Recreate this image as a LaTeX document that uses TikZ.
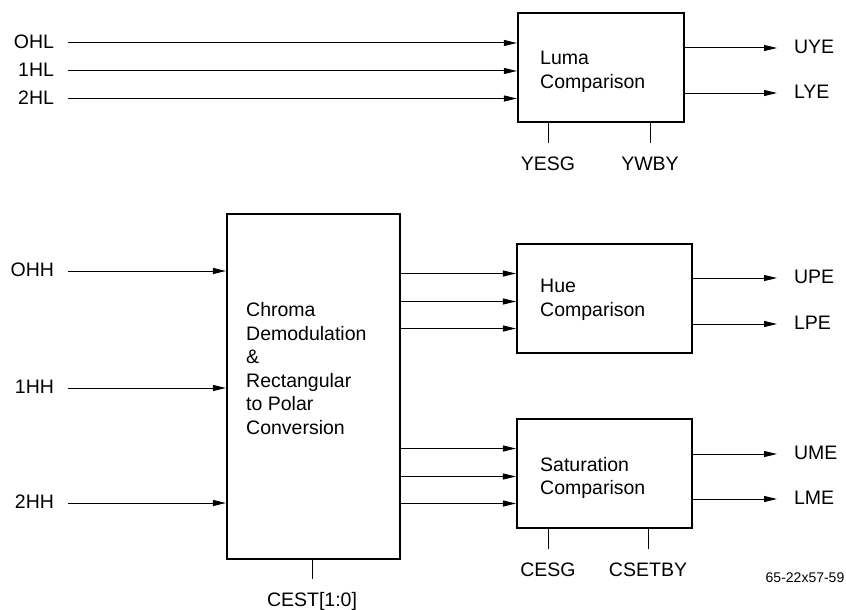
\documentclass[tikz,border=0pt]{standalone}
\usepackage{fontspec}
\setmainfont{Liberation Sans}
\usetikzlibrary{arrows.meta}
\newcommand{\sigfont}{\fontsize{19.5}{23.5}\selectfont}
\tikzset{
  block/.style={draw, line width=2.2pt, inner sep=0pt, minimum width=173pt},
  blocktext/.style={anchor=north west, inner sep=0pt, align=left, font=\sigfont},
  sig/.style={inner sep=0pt, font=\sigfont, text height=14pt, text depth=3pt},
  sigin/.style={sig, anchor=east, outer xsep=14pt},
  sigout/.style={sig, anchor=west, outer xsep=17pt},
  sigbot/.style={sig, anchor=north, outer ysep=13pt},
  wire/.style={line width=1pt, -{Triangle[length=13pt,width=6pt]}},
  tick/.style={line width=1pt}
}
\begin{document}
\begin{tikzpicture}[x=1pt, y=-1pt]
  \useasboundingbox (0,0) rectangle (846,610);

  % blocks
  \node[block, minimum width=166pt, minimum height=109pt] (luma) at (601,67.5) {};
  \node[block, minimum height=345pt] (chroma) at (313.5,386.5) {};
  \node[block, minimum width=175pt, minimum height=109pt] (hue) at (604.5,298.5) {};
  \node[block, minimum width=175pt, minimum height=109pt] (sat) at (604.5,473.5) {};

  \node[blocktext] (lumatxt) at (540,51) {Luma\\Comparison};
  \node[blocktext] (chromatxt) at (246,302.5) {Chroma\\Demodulation\\\&\\Rectangular\\to Polar\\Conversion};
  \node[blocktext] (huetxt) at (540,279) {Hue\\Comparison};
  \node[blocktext] (sattxt) at (540,457) {Saturation\\Comparison};

  % luma inputs
  \foreach \name/\txt/\y in {ohl/OHL/43, ihl/1HL/71, iihl/2HL/98.5}
  {
    \node[sigin] (\name) at (68,\y) {\txt};
    \draw[wire] (\name.east) -- (luma.west |- \name.east);
  }
  % chroma inputs
  \foreach \name/\txt/\y in {ohh/OHH/271, ihh/1HH/388, iihh/2HH/503}
  {
    \node[sigin] (\name) at (68,\y) {\txt};
    \draw[wire] (\name.east) -- (chroma.west |- \name.east);
  }
  % chroma to hue and saturation
  \foreach \y in {273.5, 301.5, 328.5}
    \draw[wire] (chroma.east |- 0,\y) -- (hue.west |- 0,\y);
  \foreach \y in {448.5, 476.5, 503.5}
    \draw[wire] (chroma.east |- 0,\y) -- (sat.west |- 0,\y);

  % outputs
  \foreach \blk/\name/\txt/\y in {luma/uye/UYE/48, luma/lye/LYE/93, hue/upe/UPE/278, hue/lpe/LPE/324, sat/ume/UME/454, sat/lme/LME/499}
  {
    \node[sigout] (\name) at (777,\y) {\txt};
    \draw[wire] (\blk.east |- \name.west) -- (\name.west);
  }

  % control pins
  \node[sigbot] (yesg) at (548,143) {YESG};
  \node[sigbot] (ywby) at (650,143) {YWBY};
  \node[sigbot] (cest) at (312,579) {CEST[1:0]};
  \node[sigbot] (cesg) at (548,549) {CESG};
  \node[sigbot] (csetby) at (648,549) {CSETBY};
  \draw[tick] (luma.south -| yesg.north) -- (yesg.north);
  \draw[tick] (luma.south -| ywby.north) -- (ywby.north);
  \draw[tick] (chroma.south -| cest.north) -- (cest.north);
  \draw[tick] (sat.south -| cesg.north) -- (cesg.north);
  \draw[tick] (sat.south -| csetby.north) -- (csetby.north);

  \node[inner sep=0pt, font=\fontsize{14}{16}\selectfont] (figno) at (805,578) {65-22x57-59};
\end{tikzpicture}
\end{document}
